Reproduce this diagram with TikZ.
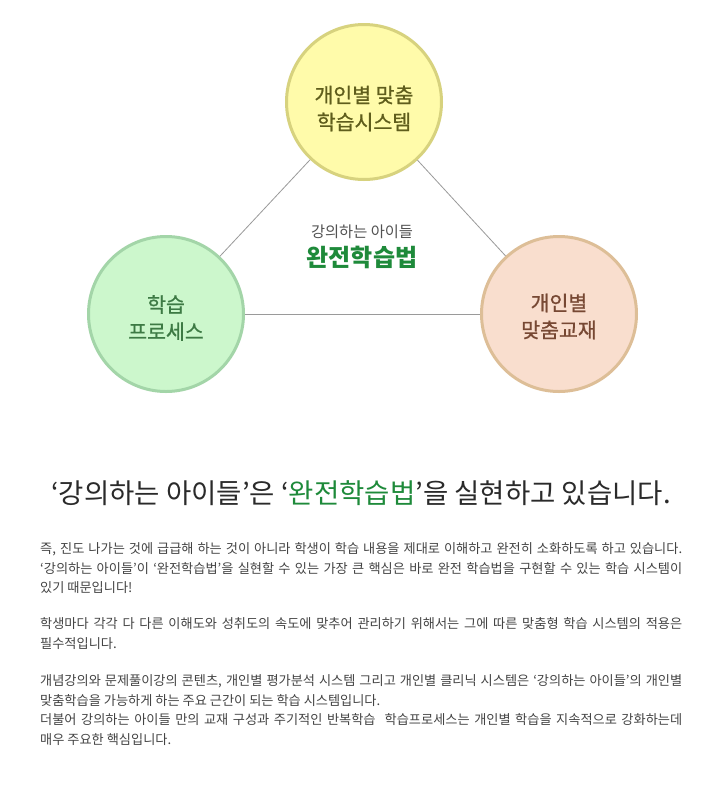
\documentclass[tikz,border=0pt]{standalone}
\usepackage{fontspec}
\setmainfont{Noto Sans CJK KR}
\newfontfamily\krmed[FakeBold=0.9]{Noto Sans CJK KR}
\definecolor{topfill}{HTML}{FFFBAA}
\definecolor{topline}{HTML}{D7D27E}
\definecolor{toptext}{HTML}{5F5D1C}
\definecolor{leftfill}{HTML}{CCF7CC}
\definecolor{leftline}{HTML}{A3D5A8}
\definecolor{lefttext}{HTML}{3D7A44}
\definecolor{rightfill}{HTML}{F9DECE}
\definecolor{rightline}{HTML}{DDBE97}
\definecolor{righttext}{HTML}{774833}
\definecolor{kgreen}{HTML}{1E8A3A}
\definecolor{bodytext}{HTML}{444444}
\definecolor{headtext}{HTML}{2A2A2A}
\definecolor{linkgray}{HTML}{9A9A9A}
\tikzset{
  bubble/.style={circle, line width=3pt, minimum size=155pt, inner sep=0pt},
  bubbletext/.style={align=center, inner sep=0pt, font=\krmed\fontsize{20.5}{27}\selectfont},
  link/.style={draw=linkgray, line width=0.8pt},
  bodyline/.style={anchor=base west, inner sep=0pt, text=bodytext, font=\fontsize{13.2}{15}\selectfont},
}
\begin{document}
\begin{tikzpicture}[x=1pt,y=-1pt]
\fill[white] (0,0) rectangle (720,804);
\useasboundingbox (0,0) rectangle (720,804);

\node[bubble, fill=topfill, draw=topline] (sys) at (364,102) {};
\node[bubble, fill=leftfill, draw=leftline] (proc) at (166,314) {};
\node[bubble, fill=rightfill, draw=rightline] (book) at (559,314) {};

\node[bubbletext, text=toptext] (systxt) at (364,108.5) {개인별 맞춤\\학습시스템};
\node[bubbletext, text=lefttext] (proctxt) at (166,318) {학습\\프로세스};
\node[bubbletext, text=righttext] (booktxt) at (559,316.5) {개인별\\맞춤교재};

\draw[link] (sys) -- (proc);
\draw[link] (sys) -- (book);
\draw[link] (proc) -- (book);

\node[text=black!68, font=\fontsize{15.3}{17}\selectfont] (kids) at (362,232) {강의하는 아이들};
\node[text=kgreen, font=\fontsize{24}{26}\bfseries\selectfont] (method) at (362,257) {완전학습법};

\node[anchor=base, inner sep=0pt, text=headtext, font=\fontsize{27.5}{30}\selectfont] (head) at (361,503)
  {‘강의하는 아이들’은 ‘\textcolor{kgreen}{완전학습법}’을 실현하고 있습니다.};

\node[bodyline] (p1) at (40,553.5) {\makebox[642pt][s]{즉, 진도 나가는 것에 급급해 하는 것이 아니라 학생이 학습 내용을 제대로 이해하고 완전히 소화하도록 하고 있습니다.}};
\node[bodyline] (p2) at (40,573) {\makebox[642pt][s]{‘강의하는 아이들’이 ‘완전학습법’을 실현할 수 있는 가장 큰 핵심은 바로 완전 학습법을 구현할 수 있는 학습 시스템이}};
\node[bodyline] (p3) at (40,592.5) {있기 때문입니다!};
\node[bodyline] (p4) at (40,628.5) {\makebox[642pt][s]{학생마다 각각 다 다른 이해도와 성취도의 속도에 맞추어 관리하기 위해서는 그에 따른 맞춤형 학습 시스템의 적용은}};
\node[bodyline] (p5) at (40,648) {필수적입니다.};
\node[bodyline] (p6) at (40,685.5) {\makebox[642pt][s]{개념강의와 문제풀이강의 콘텐츠, 개인별 평가분석 시스템 그리고 개인별 클리닉 시스템은 ‘강의하는 아이들’의 개인별}};
\node[bodyline] (p7) at (40,705) {맞춤학습을 가능하게 하는 주요 근간이 되는 학습 시스템입니다.};
\node[bodyline] (p8) at (40,724.5) {\makebox[642pt][s]{더불어 강의하는 아이들 만의 교재 구성과 주기적인 반복학습 \ 학습프로세스는 개인별 학습을 지속적으로 강화하는데}};
\node[bodyline] (p9) at (40,744) {매우 주요한 핵심입니다.};
\end{tikzpicture}
\end{document}
